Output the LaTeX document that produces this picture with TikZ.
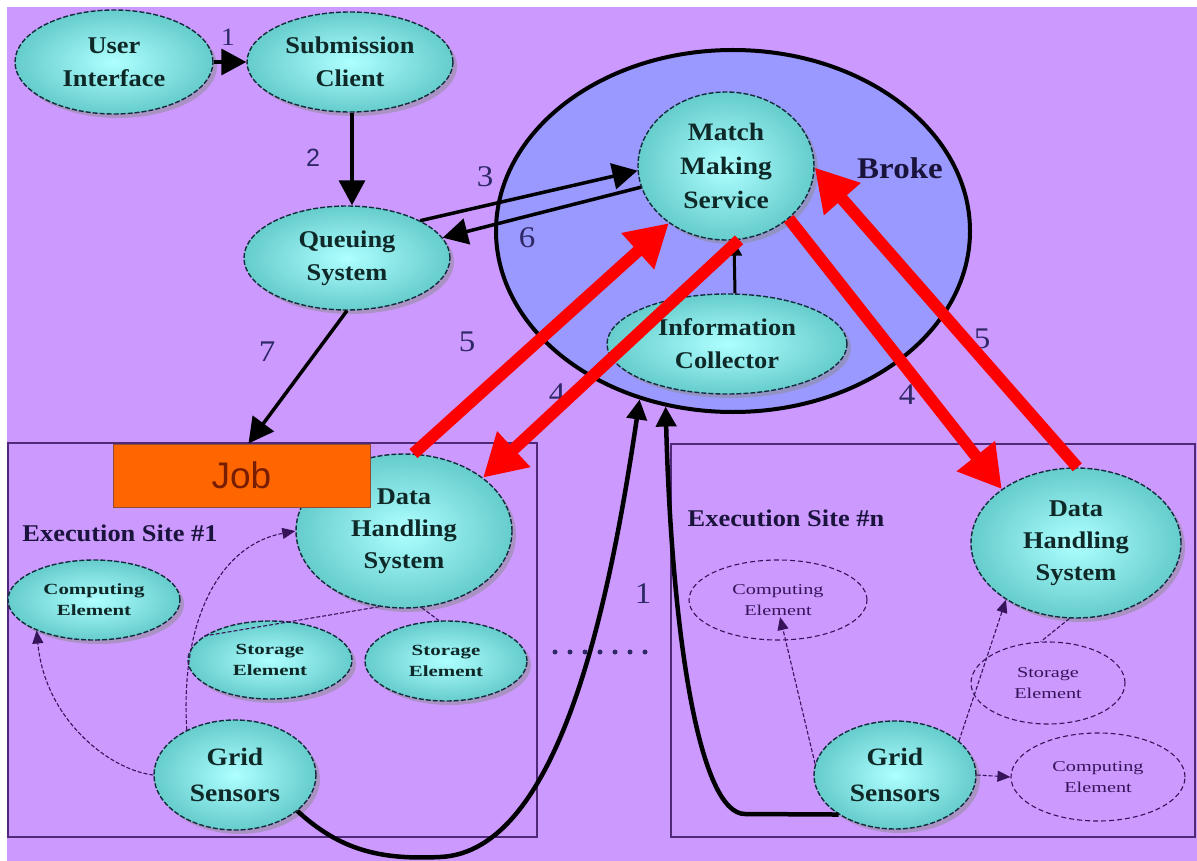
\documentclass[tikz,border=0pt]{standalone}
\usepackage{fontspec}
\setmainfont{Liberation Serif}[FakeStretch=1.1]
\newfontfamily\widefont{Liberation Serif}[FakeStretch=1.35]
\newfontfamily\jobfont{Liberation Sans}
\usetikzlibrary{shapes.geometric,arrows.meta,shadows}
\definecolor{bgc}{RGB}{204,153,255}
\definecolor{brk}{RGB}{153,153,255}
\definecolor{cyin}{RGB}{175,255,255}
\definecolor{cyout}{RGB}{102,204,204}
\definecolor{nborder}{RGB}{20,45,60}
\definecolor{ntext}{RGB}{15,40,40}
\definecolor{numc}{RGB}{46,40,102}
\definecolor{sitec}{RGB}{80,40,120}
\definecolor{dashc}{RGB}{55,20,90}
\definecolor{jobc}{RGB}{255,102,0}
\definecolor{jobt}{RGB}{120,30,0}
\definecolor{exc}{RGB}{26,20,60}
\tikzset{
  sz/.style n args={2}{minimum width=#1pt, minimum height=#2pt},
  cnode/.style={ellipse, inner sep=0pt, inner color=cyin, outer color=cyout,
    draw=nborder, line width=1.4pt, dash pattern=on 5pt off 2pt,
    drop shadow={shadow xshift=4pt, shadow yshift=-4pt, fill=black!45},
    align=center, text=ntext, font=\fontsize{24}{32}\selectfont\bfseries},
  snode/.style={cnode, font=\widefont\fontsize{15.5}{21}\selectfont\bfseries},
  enode/.style={ellipse, inner sep=0pt, draw=dashc, line width=1.1pt,
    dash pattern=on 5pt off 3pt, align=center, text=dashc,
    font=\widefont\fontsize{15}{21}\selectfont},
  jobbox/.style={rectangle, inner sep=0pt, fill=jobc, draw=jobt!80, line width=1pt,
    minimum width=257pt, minimum height=63pt, text=jobt,
    font=\jobfont\fontsize{37}{37}\selectfont},
  numlbl/.style={text=numc, font=\fontsize{30}{30}\selectfont, inner sep=0pt},
  sitelbl/.style={text=exc, font=\fontsize{24}{24}\selectfont\bfseries, inner sep=0pt},
  barr/.style={draw=black, line width=3.5pt, -{Triangle[length=25pt,width=26pt]}},
  carr/.style={draw=black, line width=4.5pt, -{Triangle[length=20pt,width=20pt]}},
  rarr/.style={draw=red, line width=12pt, -{Triangle[length=42pt,width=46pt]}},
  tarr/.style={draw=dashc, line width=1.1pt, dash pattern=on 4pt off 2pt, -{Triangle[length=13pt,width=11pt]}},
  tline/.style={draw=dashc, line width=1.1pt, dash pattern=on 4pt off 2pt},
  sitebox/.style={draw=sitec, line width=1.6pt},
}
\begin{document}
\begin{tikzpicture}[x=1pt,y=-1pt]
\useasboundingbox (0,0) rectangle (1197,861);
\fill[white] (0,0) rectangle (1197,861);
\fill[bgc] (7,7) rectangle (1197,861);
% execution sites
\draw[sitebox] (8,443) rectangle (537,837);
\draw[sitebox] (671,444) rectangle (1195,837);
% broker
\node[ellipse, draw=black, line width=4pt, fill=brk, minimum width=474pt, minimum height=362pt, inner sep=0pt] (broker) at (733,231) {};
\node[text=exc, font=\fontsize{30}{30}\selectfont\bfseries, inner sep=0pt] (brokelbl) at (900,168) {Broke};
% main nodes
\node[cnode, sz={198}{104}, font=\fontsize{24}{33}\selectfont\bfseries] (ui) at (114,62) {User\\Interface};
\node[cnode, sz={206}{100}, font=\fontsize{24}{33}\selectfont\bfseries] (sc) at (350,62) {Submission\\Client};
\node[cnode, sz={206}{104}, font=\fontsize{24}{33}\selectfont\bfseries] (qs) at (347,258) {Queuing\\System};
\node[cnode, sz={176}{148}, font=\fontsize{25}{34}\selectfont\bfseries] (mms) at (726,166) {Match\\Making\\Service};
\node[cnode, sz={240}{100}, font=\fontsize{24}{33}\selectfont\bfseries] (ic) at (727,344) {Information\\Collector};
\node[cnode, sz={216}{154}] (dhs1) at (404,531) {Data\\Handling\\System};
\node[cnode, sz={210}{150}] (dhsn) at (1076,543) {Data\\Handling\\System};
\node[snode, sz={172}{80}] (ce1) at (94,600) {Computing\\Element};
\node[snode, sz={164}{78}] (se1) at (270,660) {Storage\\Element};
\node[snode, sz={162}{80}] (se2) at (446,661) {Storage\\Element};
\node[cnode, sz={162}{110}, font=\fontsize{25}{36}\selectfont\bfseries] (gs1) at (235,775) {Grid\\Sensors};
\node[cnode, sz={162}{108}, font=\fontsize{25}{36}\selectfont\bfseries] (gsn) at (895,775) {Grid\\Sensors};
\node[enode, sz={178}{80}] (cen1) at (778,600) {Computing\\Element};
\node[enode, sz={154}{82}] (sen) at (1048,683) {Storage\\Element};
\node[enode, sz={174}{88}] (cen2) at (1098,777) {Computing\\Element};
\node[jobbox] (job) at (241.5,475.5) {Job};
% site labels
\node[sitelbl] (ex1) at (120,533) {Execution Site \#1};
\node[sitelbl] (exn) at (786,518) {Execution Site \#n};
% thin connectors, site 1
\draw[tarr] (gs1.137) .. controls (180,620) and (220,545) .. (dhs1.180);
\draw[tarr] (gs1.west) .. controls (110,770) and (45,720) .. (ce1.208);
\draw[tline] (dhs1.252) -- (se1.160);
\draw[tline] (dhs1.283) -- (se2.100);
% thin connectors, site n
\draw[tarr] (gsn.172) -- ([xshift=2pt,yshift=-17pt]cen1.center);
\draw[tarr] (gsn.28) -- (dhsn.219);
\draw[tarr] (gsn.east) -- (cen2.west);
\draw[tline] (dhsn.265) -- (sen.100);
% black arrows
\draw[barr] (ui.east) -- (sc.west);
\draw[barr] ([xshift=2pt]sc.south) -- ([xshift=5pt]qs.north);
\draw[barr] (qs.27) -- (mms.183);
\draw[barr] (mms.194) -- (qs.12);
\draw[barr] (qs.south) -- ([xshift=7pt]job.north);
\draw[black, line width=3pt, -{Triangle[length=15pt,width=15pt]}] ([xshift=8pt]ic.north) -- ([xshift=8pt]mms.south);
% thick curves (1)
\draw[carr] (gs1.-30) .. controls (340,850) and (380,860) .. (440,857) .. controls (560,852) and (610,600) .. (broker.241);
\draw[carr] (gsn.215) -- (745,814) .. controls (700,814) and (672,640) .. (broker.249);
% dots
\draw[numc, line width=5pt, line cap=round, dash pattern=on 0pt off 15pt] (555,652) -- (650,652);
% numbers
\node[numlbl, font=\fontsize{25}{25}\selectfont] (n1a) at (228,37) {1};
\node[numlbl, font=\jobfont\fontsize{25}{25}\selectfont] (n2) at (313,158) {2};
\node[numlbl] (n3) at (485,177) {3};
\node[numlbl] (n6) at (527,238) {6};
\node[numlbl] (n7) at (267,352) {7};
\node[numlbl] (n5a) at (467,342) {5};
\node[numlbl] (n4a) at (557,394) {4};
\node[numlbl] (n4b) at (907,395) {4};
\node[numlbl] (n5b) at (982,339) {5};
\node[numlbl] (n1b) at (643,594) {1};
% red arrows
\draw[rarr] (dhs1.83) -- (mms.225);
\draw[rarr] (mms.280) -- (dhs1.34);
\draw[rarr] (mms.320) -- (dhsn.144);
\draw[rarr] (dhsn.89) -- (mms.359);
\end{tikzpicture}
\end{document}
